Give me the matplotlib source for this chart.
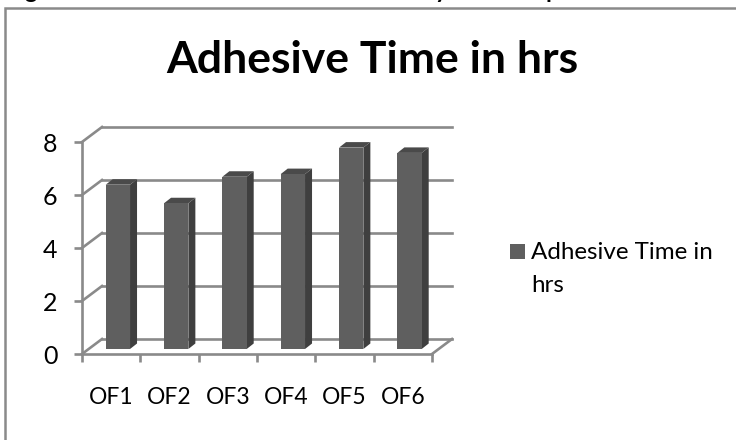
import numpy as np
import matplotlib
matplotlib.use('Agg')
import matplotlib.pyplot as plt
from matplotlib.lines import Line2D
from matplotlib.patches import Polygon, Rectangle

plt.rcParams['font.family'] = ['Lato', 'DejaVu Sans']

categories = ['OF1', 'OF2', 'OF3', 'OF4', 'OF5', 'OF6']
values = [6.2, 5.5, 6.5, 6.6, 7.6, 7.4]
y_ticks = [0, 2, 4, 6, 8]
title = 'Adhesive Time in hrs'
legend_lines = ['Adhesive Time in', 'hrs']

W, H = 736, 440
GRID = '#8a8a8a'
FRONT = '#5f5f5f'
SIDE = '#3f3f3f'
TOP = '#4a4a4a'
LW = 1.9

fig = plt.figure(figsize=(W/100, H/100), dpi=100)
fig.patch.set_facecolor('white')

#helper for pixel positions measured from the top left
def px(x, y):
    return x/W, 1-y/H

#outer chart frame: only top and left edges are inside the crop
fig.add_artist(Line2D([4.5/W, 4.5/W, 1], [0, 1-8/H, 1-8/H], transform=fig.transFigure,
                      color=GRID, lw=1.8, solid_joinstyle='miter'))

#descenders of the caption line cut off by the top edge, same as the reference
for cx, ch in [(31, 'g'), (441, 'y'), (552, 'p')]:
    fig.text(cx/W, 1+2/H, ch, ha='center', va='baseline', fontsize=17, fontweight='bold')

#axes covers the front plane of the 3d box
ax = fig.add_axes([82/W, 1-354/H, 350/W, 212/H])
ax.set_xlim(0, 6)
ax.set_ylim(0, 8)
ax.patch.set_alpha(0)
for s in ['top', 'right']:
    ax.spines[s].set_visible(False)
for s in ['left', 'bottom']:
    ax.spines[s].set_color(GRID)
    ax.spines[s].set_linewidth(LW)

#offsets of the back wall and of the bars, in data units
back_dx, back_dy = 20/58.3, 15/26.5
bar_dx, bar_dy = 6.7/58.3, 5/26.5
side_dx, side_dy = 7/58.3, 5.5/26.5
bar_w = 24.3/58.3

ax.set_yticks(y_ticks)
ax.set_xticks(np.arange(len(categories)+1))
ax.set_xticklabels([])
ax.set_xticks(np.arange(len(categories))+0.5, minor=True)
ax.set_xticklabels(categories, minor=True)
ax.tick_params(axis='x', which='major', length=5.5, width=LW, color=GRID)
ax.tick_params(axis='x', which='minor', length=0, pad=24, labelsize=16.5)
ax.tick_params(axis='y', length=5.5, width=LW, color=GRID, labelsize=18, pad=12)

#back wall gridlines and the floor/side connectors
for t in y_ticks:
    ax.plot([back_dx, 6+back_dx], [t+back_dy, t+back_dy], color=GRID, lw=LW, clip_on=False, zorder=1)
    ax.plot([0, back_dx], [t, t+back_dy], color=GRID, lw=LW, clip_on=False, zorder=1)
ax.plot([6, 6+back_dx], [0, back_dy], color=GRID, lw=LW, clip_on=False, zorder=1)

#bars: front, side and top faces
for i, v in enumerate(values):
    x0 = i+0.5+bar_dx-bar_w/2
    x1 = x0+bar_w
    y0 = bar_dy
    y1 = v+bar_dy
    ax.add_patch(Polygon([(x1, y0), (x1+side_dx, y0+side_dy), (x1+side_dx, y1+side_dy), (x1, y1)],
                         facecolor=SIDE, edgecolor='none', clip_on=False, zorder=3))
    ax.add_patch(Polygon([(x0, y1), (x0+side_dx, y1+side_dy), (x1+side_dx, y1+side_dy), (x1, y1)],
                         facecolor=TOP, edgecolor='none', clip_on=False, zorder=3))
    ax.bar(x0, v, width=bar_w, bottom=y0, align='edge', color=FRONT, clip_on=False, zorder=4)

fig.text(372/W, 1-73/H, title, ha='center', va='baseline', fontsize=32, fontweight='bold')

#legend
fig.add_artist(Rectangle(px(510, 259), 15/W, 15/H, transform=fig.transFigure, facecolor=FRONT, edgecolor='none'))
fig.text(531/W, 1-259/H, legend_lines[0], ha='left', va='baseline', fontsize=17.4)
fig.text(531/W, 1-292/H, legend_lines[1], ha='left', va='baseline', fontsize=17.4)

fig.savefig('out.png', dpi=100)
